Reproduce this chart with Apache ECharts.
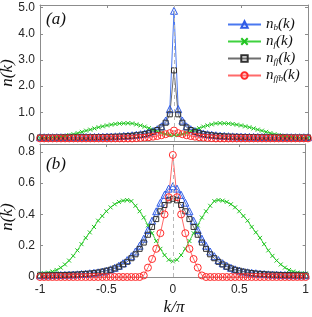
<!DOCTYPE html>
<html><head><meta charset="utf-8">
<script src="https://cdn.jsdelivr.net/npm/echarts@6/dist/echarts.min.js"></script>
<style>html,body{margin:0;padding:0;background:#fff}#c{width:312px;height:317px}</style>
</head><body><div id="c"></div>
<script>
// k / pi sampling grid
const k = [-1,-0.96875,-0.9375,-0.90625,-0.875,-0.84375,-0.8125,-0.78125,-0.75,-0.71875,-0.6875,-0.65625,-0.625,-0.59375,-0.5625,-0.53125,-0.5,-0.46875,-0.4375,-0.40625,-0.375,-0.34375,-0.3125,-0.28125,-0.25,-0.21875,-0.1875,-0.15625,-0.125,-0.09375,-0.0625,-0.03125,0,0.03125,0.0625,0.09375,0.125,0.15625,0.1875,0.21875,0.25,0.28125,0.3125,0.34375,0.375,0.40625,0.4375,0.46875,0.5,0.53125,0.5625,0.59375,0.625,0.65625,0.6875,0.71875,0.75,0.78125,0.8125,0.84375,0.875,0.90625,0.9375,0.96875,1];

// panel (a)
const aNb = [.045,.045,.045,.045,.046,.046,.047,.048,.049,.05,.051,.053,.055,.057,.06,.063,.067,.072,.078,.085,.095,.105,.12,.14,.16,.19,.23,.28,.35,.46,.68,1.12,
  4.88,1.12,.68,.46,.35,.28,.23,.19,.16,.14,.12,.105,.095,.085,.078,.072,.067,.063,.06,.057,.055,.053,.051,.05,.049,.048,.047,.046,.046,.045,.045,.045,.045];
const aNf = [.026,.028,.033,.041,.053,.07,.095,.125,.16,.2,.25,.295,.335,.38,.425,.46,.495,.525,.55,.565,.575,.58,.57,.535,.495,.45,.39,.33,.27,.21,.165,.13,
  .12,.13,.165,.21,.27,.33,.39,.45,.495,.535,.57,.58,.575,.565,.55,.525,.495,.46,.425,.38,.335,.295,.25,.2,.16,.125,.095,.07,.053,.041,.033,.028,.026];
const aNff = [.038,.038,.038,.038,.039,.039,.04,.04,.041,.042,.043,.044,.045,.047,.049,.052,.055,.059,.064,.07,.078,.088,.1,.12,.14,.165,.2,.25,.32,.42,.6,.92,
  2.6,.92,.6,.42,.32,.25,.2,.165,.14,.12,.1,.088,.078,.07,.064,.059,.055,.052,.049,.047,.045,.044,.043,.042,.041,.04,.04,.039,.039,.038,.038,.038,.038];
const aNffb = [0,0,0,0,0,0,0,0,0,0,0,0,0,0,0,0,0,0,0,0,0,0,0,.01,.02,.03,.045,.065,.09,.12,.16,.2,
  .3,.2,.16,.12,.09,.065,.045,.03,.02,.01,0,0,0,0,0,0,0,0,0,0,0,0,0,0,0,0,0,0,0,0,0,0,0,0,0];

// panel (b)
const bNb = [.011,.011,.011,.012,.012,.013,.014,.015,.016,.017,.019,.021,.024,.027,.030,.035,.041,.049,.059,.072,.088,.108,.133,.163,.2,.245,.30,.36,.42,.475,.525,.565,
  .58,.565,.525,.475,.42,.36,.30,.245,.2,.163,.133,.108,.088,.072,.059,.049,.041,.035,.030,.027,.024,.021,.019,.017,.016,.015,.014,.013,.012,.012,.011,.011,.011];
const bNf = [.022,.024,.028,.035,.045,.06,.08,.105,.135,.17,.21,.25,.285,.32,.36,.39,.42,.445,.465,.48,.488,.492,.485,.455,.42,.38,.33,.28,.23,.18,.14,.11,
  .10,.11,.14,.18,.23,.28,.33,.38,.42,.455,.485,.492,.488,.48,.465,.445,.42,.39,.36,.32,.285,.25,.21,.17,.135,.105,.08,.06,.045,.035,.028,.024,.022];
const bNff = [.010,.010,.011,.011,.012,.012,.013,.014,.015,.016,.018,.02,.022,.025,.029,.034,.04,.046,.055,.066,.08,.097,.12,.145,.18,.22,.27,.32,.37,.42,.46,.49,
  .50,.49,.46,.42,.37,.32,.27,.22,.18,.145,.12,.097,.08,.066,.055,.046,.04,.034,.029,.025,.022,.02,.018,.016,.015,.014,.013,.012,.012,.011,.011,.010,.010];
const bNffb = [0,0,0,0,0,0,0,0,0,0,0,0,0,0,0,0,0,0,0,0,0,0,0,0,0,.01,.06,.115,.18,.28,.40,.51,
  .78,.51,.40,.28,.18,.115,.06,.01,0,0,0,0,0,0,0,0,0,0,0,0,0,0,0,0,0,0,0,0,0,0,0,0,0];

const xTicks = [-1,-0.5,0,0.5,1];
const yTicksA = [0,1,2,3,4,5];
const yTicksB = [0,0.2,0.4,0.6,0.8];
const yLabelsA = ['0','1.0','2.0','3.0','4.0','5.0'];
const yLabelsB = ['0','0.2','0.4','0.6','0.8'];
const names = ['nb','nf','nff','nffb'];
const subs = {nb:'b', nf:'f', nff:'ff', nffb:'ffb'};

const pair = v => v.map((y,i)=>[k[i], y]);
const AX = '#8c8c8c';
const serif = 'Liberation Serif';

const styles = {
  nb:   {sym:'triangle', size:7, line:'#4a78f0', mk:'#2f5be6'},
  nf:   {sym:'path://M0,0L10,10M10,0L0,10', size:4, line:'#3fd23f', mk:'#22c422'},
  nff:  {sym:'rect', size:5, line:'#6e6e6e', mk:'#303030'},
  nffb: {sym:'circle', size:7, line:'#ff6a6a', mk:'#ff2a2a'}
};

function xAx(grid, pos, labels){
  return {type:'value', gridIndex:grid, position:pos, min:-1, max:1, interval:0.5,
    axisLine:{show:true, onZero:false, lineStyle:{color:AX, width:1}},
    axisTick:{show:true, inside:true, length:3, lineStyle:{color:AX}},
    axisLabel:{show:labels, color:'#262626', fontSize:12, fontFamily:'Liberation Sans', margin:7},
    splitLine:{show:false}};
}
function yAx(grid, pos, min, max, ticks, labs){
  return {type:'value', gridIndex:grid, position:pos, min:min, max:max,
    axisLine:{show:true, onZero:false, lineStyle:{color:AX, width:1}},
    axisTick:{show:true, inside:true, length:3, lineStyle:{color:AX}, customValues:ticks},
    axisLabel:{show:!!labs, color:'#262626', fontSize:12, fontFamily:'Liberation Sans', margin:5,
      customValues:ticks, formatter:v=>{const i=ticks.findIndex(t=>Math.abs(t-v)<1e-9); return labs && i>=0?labs[i]:'';}},
    splitLine:{show:false}};
}

function ser(name, data, xi, yi, showLegend){
  const s = styles[name];
  return {name:name, type:'line', xAxisIndex:xi, yAxisIndex:yi, data:pair(data),
    symbol:s.sym, symbolSize:s.size, showSymbol:true, clip:false, z:3,
    lineStyle:{color:s.line, width:1},
    itemStyle:{color: name==='nf' ? s.mk : 'rgba(0,0,0,0)', borderColor:s.mk, borderWidth:1},
    emphasis:{disabled:true}};
}
function dash(xi, yi){
  return {type:'line', xAxisIndex:xi, yAxisIndex:yi, data:[], z:1, silent:true,
    markLine:{silent:true, symbol:'none', label:{show:false}, animation:false,
      lineStyle:{type:[4,3], color:'#b8b8b8', width:1}, data:[{xAxis:0}]}};
}

const chart = echarts.init(document.getElementById('c'), null, {renderer:'canvas'});
chart.setOption({
  animation:false,
  grid:[{left:40, top:5, width:268, height:136}, {left:40, top:144, width:268, height:133}],
  xAxis:[xAx(0,'bottom',false), xAx(0,'top',false), xAx(1,'bottom',true), xAx(1,'top',false)],
  yAxis:[yAx(0,'left',-0.1,5.1,yTicksA,yLabelsA), yAx(0,'right',-0.1,5.1,yTicksA,null),
         yAx(1,'left',0,0.85,yTicksB,yLabelsB), yAx(1,'right',0,0.85,yTicksB,null)],
  legend:{data:names, orient:'vertical', left:222, top:12, itemWidth:33, itemHeight:8, itemGap:2,
    selectedMode:false,
    formatter:n=>'{i|n}{s|'+subs[n]+'}{i|(k)}',
    textStyle:{rich:{
      i:{fontFamily:serif, fontStyle:'italic', fontSize:15, color:'#111', lineHeight:13},
      s:{fontFamily:serif, fontStyle:'italic', fontSize:9, color:'#111', padding:[6,0,0,0], lineHeight:13}
    }}},
  series:[
    dash(0,0), dash(2,2),
    ser('nb',aNb,0,0), ser('nf',aNf,0,0), ser('nff',aNff,0,0), ser('nffb',aNffb,0,0),
    ser('nb',bNb,2,2), ser('nf',bNf,2,2), ser('nff',bNff,2,2), ser('nffb',bNffb,2,2)
  ],
  graphic:[
    {type:'text', left:46, top:11, style:{text:'(a)', font:'italic 17px "Liberation Serif"', fill:'#111'}},
    {type:'text', left:46, top:156, style:{text:'(b)', font:'italic 17px "Liberation Serif"', fill:'#111'}},
    {type:'text', x:8, y:73, rotation:Math.PI/2, style:{text:'n(k)', font:'italic 17px "Liberation Serif"', fill:'#111', align:'center', verticalAlign:'middle'}},
    {type:'text', x:8, y:217, rotation:Math.PI/2, style:{text:'n(k)', font:'italic 17px "Liberation Serif"', fill:'#111', align:'center', verticalAlign:'middle'}},
    {type:'text', x:174, y:308, style:{text:'k/π', font:'italic 17px "Liberation Serif"', fill:'#111', align:'center', verticalAlign:'middle'}}
  ]
});
</script></body></html>
